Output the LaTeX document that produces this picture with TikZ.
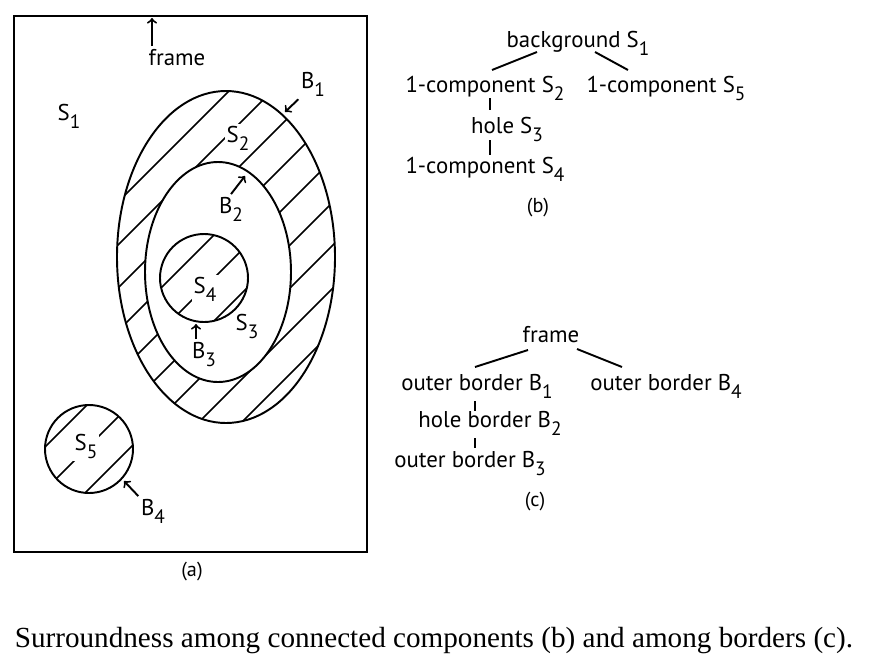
\documentclass[tikz,border=0pt]{standalone}
\usepackage{fontspec}
\setsansfont{PT Sans}
\newfontfamily\capfont{Liberation Serif}
\usetikzlibrary{calc}
\newcommand{\lo}[1]{\raisebox{-0.75ex}{\fontsize{11}{13}\selectfont #1}}

\begin{document}
\begin{tikzpicture}[x=0.02cm,y=-0.02cm,line width=1.1pt,
  lbl/.style={font=\sffamily\fontsize{13}{15}\selectfont,inner sep=1pt,anchor=base},
  gap/.style={lbl,fill=white},
  tag/.style={font=\sffamily\fontsize{11.5}{13}\selectfont},
  hatch/.style={line width=0.9pt}]
 \useasboundingbox (0,0) rectangle (883,667);

 \draw (14,16) rectangle (367,552);
 \begin{scope}[even odd rule]
  \clip (226,257) ellipse [x radius=109,y radius=166]
        (218,272) ellipse [x radius=73,y radius=110];
  \foreach \c in {320,363,...,664}
    \draw[hatch] (\c,0) -- ({\c-700},700);
 \end{scope}
 \begin{scope}
  \clip (204,278) circle [radius=44] (89,449) circle [radius=44];
  \foreach \c in {320,363,...,664}
    \draw[hatch] (\c,0) -- ({\c-700},700);
 \end{scope}
 \draw (226,257) ellipse [x radius=109,y radius=166];
 \draw (218,272) ellipse [x radius=73,y radius=110];
 \draw (204,278) circle [radius=44];
 \draw (89,449) circle [radius=44];

 \node [lbl] (frm) at (177,65) {frame};
 \node [lbl] (s1) at (69,120) {S\lo{1}};
 \node [lbl] (b1) at (313,88) {B\lo{1}};
 \node [gap] (s2) at (238,142) {S\lo{2}};
 \node [lbl] (b2) at (231,213) {B\lo{2}};
 \node [gap] (s4) at (205,293) {S\lo{4}};
 \node [lbl] (s3) at (247,330) {S\lo{3}};
 \node [lbl] (b3) at (204,358) {B\lo{3}};
 \node [gap] (s5) at (86,450) {S\lo{5}};
 \node [lbl] (b4) at (153,515) {B\lo{4}};
 \node [tag] (ta) at (192,572) {(a)};
 \coordinate (frmtip) at (152,18);
 \coordinate (b1tip) at (285,112);
 \coordinate (b2tip) at (245,176);
 \coordinate (b3tip) at (196,324);
 \coordinate (b4tip) at (124,481);
 \draw[->] (frm.north west -| frmtip) -- (frmtip);
 \draw[->] (b1.south west) -- (b1tip);
 \draw[->] (b2.north) -- (b2tip);
 \draw[->] (b3.north west -| b3tip) -- (b3tip);
 \draw[->] (b4.north west) -- (b4tip);

 % (b)
 \node [lbl] (bg) at (578,47) {background S\lo{1}};
 \node [lbl] (c2) at (485,92) {1-component S\lo{2}};
 \node [lbl] (c5) at (666,92) {1-component S\lo{5}};
 \node [lbl] (h3) at (507,133) {hole S\lo{3}};
 \node [lbl] (c4) at (485,173) {1-component S\lo{4}};
 \node [tag] (tb) at (538,208) {(b)};
 \draw ($(bg.base)+(-41,5)$) -- ($(c2.base)+(7,-22)$);
 \draw ($(bg.base)+(17,5)$) -- ($(c5.base)+(-38,-22)$);
 \draw ($(c2.base)+(5,6)$) -- ($(h3.base)+(-17,-23)$);
 \draw ($(h3.base)+(-17,7)$) -- ($(c4.base)+(5,-18)$);

 % (c)
 \node [lbl] (fr) at (551,342) {frame};
 \node [lbl] (o1) at (477,390) {outer border B\lo{1}};
 \node [lbl] (o4) at (666,390) {outer border B\lo{4}};
 \node [lbl] (h2) at (490,427) {hole border B\lo{2}};
 \node [lbl] (o3) at (470,467) {outer border B\lo{3}};
 \node [tag] (tc) at (535,502) {(c)};
 \draw ($(fr.base)+(-23,8)$) -- ($(o1.base)+(-2,-23)$);
 \draw ($(fr.base)+(26,7)$) -- ($(o4.base)+(-44,-23)$);
 \draw ($(o1.base)+(-2,11)$) -- ($(h2.base)+(-15,-16)$);
 \draw ($(h2.base)+(-15,11)$) -- ($(o3.base)+(5,-19)$);

 \node [font=\capfont\fontsize{16.6}{19}\selectfont] (cap) at (434,641)
   {Surroundness among connected components (b) and among borders (c).};
\end{tikzpicture}
\end{document}
